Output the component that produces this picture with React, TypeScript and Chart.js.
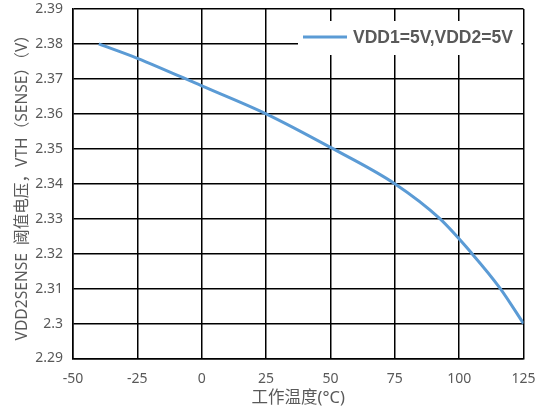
import React, { useEffect, useRef } from "react";
import { Chart, registerables } from "chart.js";

Chart.register(...registerables);

const temperatures = [-40, -25, 0, 25, 50, 75, 92.5, 105, 116, 125];
const thresholdValues = [2.38, 2.3759, 2.368, 2.36, 2.3504, 2.34, 2.33, 2.32, 2.31, 2.3];
const seriesLabel = "VDD1=5V,VDD2=5V";
const xTitle = "工作温度(°C)";
const yTitle = "VDD2SENSE  阈值电压，VTH（SENSE）（V）";

const textColor = "#595959";
const lineColor = "#5B9BD5";
const fontFamily = "'Noto Sans', 'Noto Sans CJK SC', sans-serif";

const legendPlugin = {
  id: "boxLegend",
  afterDraw(chart: any) {
    const ctx = chart.ctx;
    const area = chart.chartArea;
    ctx.save();
    ctx.fillStyle = "#ffffff";
    ctx.fillRect(298, 21, area.right - 2 - 298, 34);
    ctx.strokeStyle = lineColor;
    ctx.lineWidth = 3;
    ctx.beginPath();
    ctx.moveTo(303, 37);
    ctx.lineTo(347, 37);
    ctx.stroke();
    ctx.fillStyle = textColor;
    ctx.font = "bold 17.5px 'Liberation Sans', sans-serif";
    ctx.textBaseline = "middle";
    ctx.textAlign = "left";
    ctx.fillText(chart.data.datasets[0].label, 353, 38);
    ctx.restore();
  },
};

const zeroPadding = (s: any) => {
  s.paddingTop = 0;
  s.paddingBottom = 0;
  s.paddingLeft = 0;
  s.paddingRight = 0;
};

export default function App() {
  const ref = useRef<HTMLCanvasElement | null>(null);
  useEffect(() => {
    document.body.style.margin = "0";
    const canvas = ref.current;
    if (!canvas) return;
    const chart = new Chart(canvas, {
      type: "line",
      data: {
        datasets: [
          {
            label: seriesLabel,
            data: temperatures.map((t, i) => ({ x: t, y: thresholdValues[i] })),
            borderColor: lineColor,
            borderWidth: 3,
            pointRadius: 0,
            cubicInterpolationMode: "monotone",
            fill: false,
          },
        ],
      },
      options: {
        animation: false,
        responsive: false,
        layout: { padding: { top: 9, right: 16.5, left: 0, bottom: 0 } },
        plugins: { legend: { display: false }, tooltip: { enabled: false } },
        scales: {
          x: {
            type: "linear",
            min: -50,
            max: 125,
            ticks: {
              stepSize: 25,
              color: textColor,
              font: { family: fontFamily, size: 14 },
              padding: 12.5,
            },
            grid: { color: "#000000", lineWidth: 1.5, drawTicks: false },
            border: { color: "#000000", width: 1.5 },
            title: {
              display: true,
              text: xTitle,
              color: textColor,
              font: { family: fontFamily, size: 16.5 },
              padding: { top: 0, bottom: 5 },
            },
            afterFit: (s: any) => {
              s.height = 54.5;
              zeroPadding(s);
            },
          },
          y: {
            type: "linear",
            min: 2.29,
            max: 2.39,
            ticks: {
              stepSize: 0.01,
              color: textColor,
              font: { family: fontFamily, size: 14 },
              padding: 10,
              callback: (v: any) => String(Number(Number(v).toFixed(2))),
            },
            grid: { color: "#000000", lineWidth: 1.5, drawTicks: false },
            border: { color: "#000000", width: 1.5 },
            title: {
              display: true,
              text: yTitle,
              color: textColor,
              font: { family: fontFamily, size: 15.6 },
              padding: { top: 13, bottom: 0 },
            },
            afterFit: (s: any) => {
              s.width = 73;
              zeroPadding(s);
            },
          },
        },
      },
      plugins: [legendPlugin],
    } as any);
    return () => chart.destroy();
  }, []);
  return (
    <div style={{ width: 540, height: 413 }}>
      <canvas ref={ref} width={540} height={413} style={{ width: 540, height: 413, display: "block" }} />
    </div>
  );
}
